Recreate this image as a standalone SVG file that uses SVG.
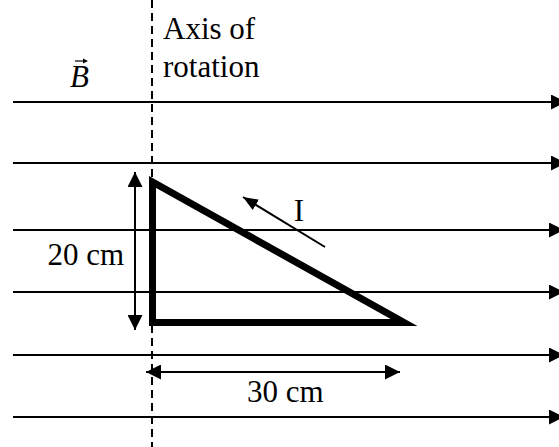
<svg xmlns="http://www.w3.org/2000/svg" width="559" height="447" viewBox="0 0 559 447">
<style>
.t{font-family:"Liberation Serif","Times New Roman",serif;font-size:31px;fill:#000}
.field{stroke:#000;stroke-width:2;fill:none}
.dim{stroke:#000;stroke-width:2;fill:none}
</style>
<defs>
<marker id="ah" markerUnits="userSpaceOnUse" viewBox="0 0 15 15" refX="15" refY="7.5" markerWidth="15" markerHeight="15" orient="auto-start-reverse">
<path d="M0,0 L15,7.5 L0,15 z" fill="#000"/>
</marker>
<marker id="ahs" markerUnits="userSpaceOnUse" viewBox="0 0 15 12" refX="15" refY="6" markerWidth="15" markerHeight="12" orient="auto">
<path d="M0,0 L15,6 L0,12 z" fill="#000"/>
</marker>
</defs>
<rect width="559" height="447" fill="#fff"/>
<g id="field-lines">
<line class="field" x1="13" y1="102" x2="566" y2="102" marker-end="url(#ah)"/>
<line class="field" x1="13" y1="163" x2="566" y2="163" marker-end="url(#ah)"/>
<line class="field" x1="13" y1="230" x2="564" y2="230" marker-end="url(#ah)"/>
<line class="field" x1="13" y1="292" x2="564" y2="292" marker-end="url(#ah)"/>
<line class="field" x1="13" y1="355" x2="564" y2="355" marker-end="url(#ah)"/>
<line class="field" x1="13" y1="417" x2="564" y2="417" marker-end="url(#ah)"/>
</g>
<g id="axis">
<line x1="152" y1="0" x2="152" y2="447" stroke="#000" stroke-width="2" stroke-dasharray="8 5"/>
<text class="t" x="163" y="39">Axis of</text>
<text class="t" x="163" y="77">rotation</text>
</g>
<g id="B-label">
<text class="t" x="70" y="87" font-style="italic" font-size="28">B</text>
<line x1="75" y1="61" x2="85" y2="61" stroke="#000" stroke-width="1.2"/>
<path d="M83,58.5 L88,61 L83,63.5 z" fill="#000"/>
</g>
<g id="loop">
<polygon points="152.5,182 152.5,322.5 404,322.5" fill="none" stroke="#000" stroke-width="7" stroke-linejoin="miter" stroke-miterlimit="10"/>
</g>
<g id="current">
<line x1="325" y1="247" x2="243" y2="197" stroke="#000" stroke-width="2" marker-end="url(#ahs)"/>
<text class="t" x="299" y="221" text-anchor="middle">I</text>
</g>
<g id="dim-20">
<line class="dim" x1="135" y1="172" x2="135" y2="330" marker-start="url(#ah)" marker-end="url(#ah)"/>
<text class="t" x="124" y="265" text-anchor="end">20 cm</text>
</g>
<g id="dim-30">
<line class="dim" x1="146" y1="372" x2="400" y2="372" marker-start="url(#ah)" marker-end="url(#ah)"/>
<text class="t" x="247" y="402">30 cm</text>
</g>
</svg>
